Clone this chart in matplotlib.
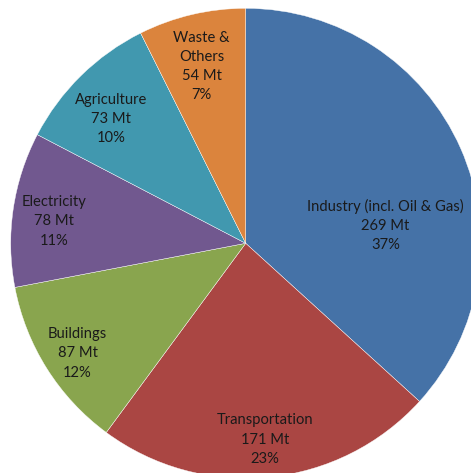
import numpy as np
import matplotlib.pyplot as plt

sectors = ["Industry (incl. Oil & Gas)", "Transportation", "Buildings",
           "Electricity", "Agriculture", "Waste &\nOthers"]
emissions = [269, 171, 87, 78, 73, 54]
percents = ["37%", "23%", "12%", "11%", "10%", "7%"]
colors = ["#4572A7", "#AA4643", "#89A54E", "#71588F", "#4198AF", "#DB843D"]

# label placement (fraction of radius, angle shift in degrees)
label_r = [0.60, 0.84, 0.855, 0.82, 0.78, 0.775]
label_shift = [-16.5, 0.0, 1.0, 1.8, 2.8, 0.7]

W, H = 471, 473
fig = plt.figure(figsize=(W / 100, H / 100), dpi=100)
ax = fig.add_axes([0, 0, 1, 1])

cx, cy, R = 245.7, H - 243.3, 235
wedges, _ = ax.pie(emissions, colors=colors, startangle=90, counterclock=False,
                   center=(cx, cy), radius=R, frame=True,
                   wedgeprops=dict(edgecolor="white", linewidth=0.3))
ax.set_xlim(0, W)
ax.set_ylim(0, H)
ax.set_aspect("equal")
ax.axis("off")

for w, name, val, pct, r, s in zip(wedges, sectors, emissions, percents, label_r, label_shift):
    ang = np.deg2rad((w.theta1 + w.theta2) / 2 + s)
    x = cx + r * R * np.cos(ang)
    y = cy + r * R * np.sin(ang)
    ax.text(x, y, "{}\n{} Mt\n{}".format(name, val, pct), ha="center", va="center",
            fontsize=10.6, family="Lato", color="#1a1a1a", linespacing=1.48)

fig.savefig("out.png", dpi=100)
